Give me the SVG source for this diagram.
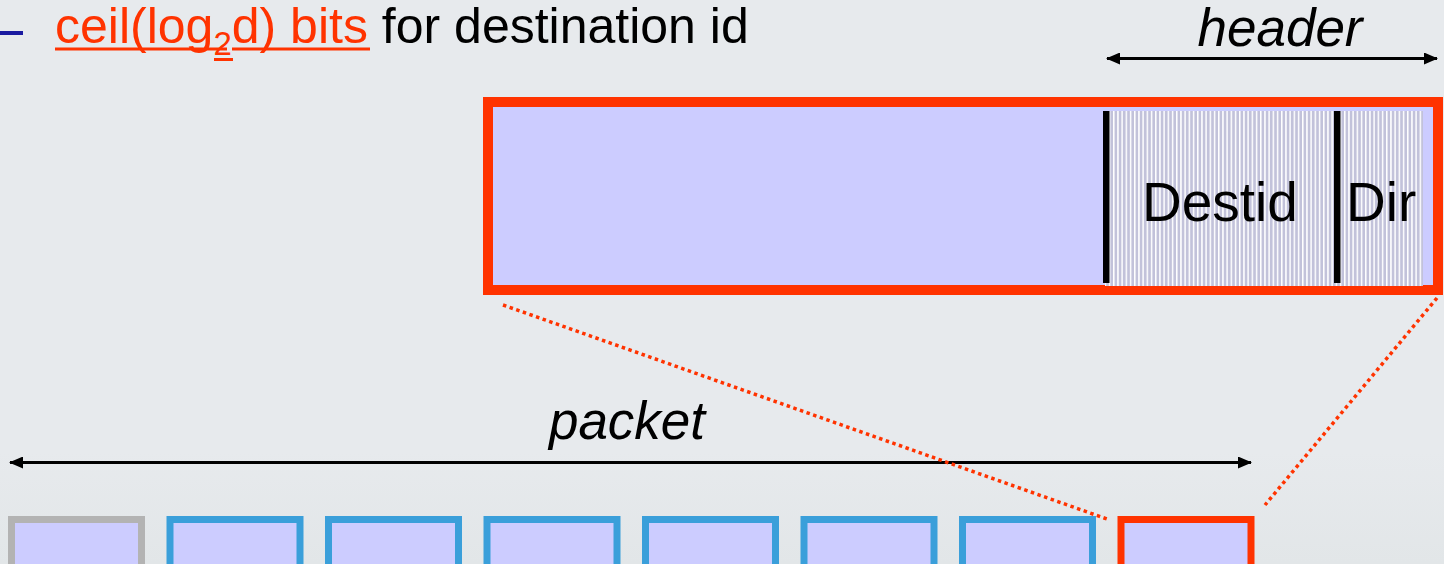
<svg xmlns="http://www.w3.org/2000/svg" width="1444" height="564" viewBox="0 0 1444 564">
  <style>
    .txt { font-family: "Liberation Sans", Arial, sans-serif; fill: #000; }
    .lbl { font-family: "Liberation Sans", Arial, sans-serif; font-style: italic; font-size: 53px; fill: #000; }
    .fld { font-family: "Liberation Sans", Arial, sans-serif; font-size: 55px; fill: #000; }
    .cell { fill: #ccccff; stroke-width: 7; }
    .dots { stroke: #ff3300; stroke-width: 3.5; stroke-dasharray: 3.5 3.5; fill: none; }
    .dim { stroke: #000; stroke-width: 3; fill: none; marker-start: url(#ah); marker-end: url(#ah); }
  </style>
  <defs>
    <marker id="ah" viewBox="0 0 14 12" refX="13" refY="6" markerWidth="14" markerHeight="12" markerUnits="userSpaceOnUse" orient="auto-start-reverse">
      <path d="M0,0 L14,6 L0,12 Z" fill="#000"/>
    </marker>
    <pattern id="stripes" width="4.2" height="10" patternUnits="userSpaceOnUse">
      <rect width="4.2" height="10" fill="#ffffff"/>
      <rect x="1.5" width="2.7" height="10" fill="#c2c2da"/>
    </pattern>
    <linearGradient id="bg" x1="0" y1="0" x2="0" y2="1">
      <stop offset="0" stop-color="#e7eaed"/>
      <stop offset="0.8" stop-color="#e7eaed"/>
      <stop offset="1" stop-color="#e2e6e8"/>
    </linearGradient>
  </defs>

  <rect width="1444" height="564" fill="url(#bg)"/>

  <!-- bullet line -->
  <g id="bullet">
    <rect x="0" y="31" width="23" height="4" fill="#1a1aa0"/>
    <text class="txt" x="55" y="43" font-size="50"><tspan fill="#ff3300">ceil(log</tspan><tspan fill="#ff3300" font-size="33" dy="12">2</tspan><tspan fill="#ff3300" dy="-12">d) bits</tspan> for destination id</text>
    <rect x="55" y="47.5" width="172" height="3" fill="#ff3300"/>
    <rect x="214" y="58" width="19" height="3" fill="#ff3300"/>
    <rect x="232" y="47.5" width="138" height="3" fill="#ff3300"/>
  </g>

  <!-- header dimension -->
  <g id="header-dim">
    <text class="lbl" x="1280" y="46" text-anchor="middle">header</text>
  </g>

  <!-- enlarged flit -->
  <g id="flit-detail">
    <rect x="488" y="102" width="950" height="188" fill="#ccccff" stroke="#ff3300" stroke-width="10"/>
    <rect x="1105" y="111" width="318" height="175" fill="url(#stripes)"/>
    <rect x="1103" y="111" width="6.5" height="172" fill="#000"/>
    <rect x="1334" y="111" width="6.5" height="172" fill="#000"/>
    <text class="fld" x="1142" y="221">Destid</text>
    <text class="fld" x="1346" y="221">Dir</text>
  </g>

  <!-- packet dimension -->
  <g id="packet-dim">
    <text class="lbl" x="627" y="439" text-anchor="middle">packet</text>
  </g>

  <!-- flits of the packet -->
  <g id="flit-0"><rect class="cell" x="11.5" y="519.5" width="130" height="60" stroke="#b3b3b3"/></g>
  <g id="flit-1"><rect class="cell" x="170" y="519.5" width="130" height="60" stroke="#3a9fda"/></g>
  <g id="flit-2"><rect class="cell" x="328.5" y="519.5" width="130" height="60" stroke="#3a9fda"/></g>
  <g id="flit-3"><rect class="cell" x="487" y="519.5" width="130" height="60" stroke="#3a9fda"/></g>
  <g id="flit-4"><rect class="cell" x="645.5" y="519.5" width="130" height="60" stroke="#3a9fda"/></g>
  <g id="flit-5"><rect class="cell" x="804" y="519.5" width="130" height="60" stroke="#3a9fda"/></g>
  <g id="flit-6"><rect class="cell" x="962.5" y="519.5" width="130" height="60" stroke="#3a9fda"/></g>
  <g id="flit-7"><rect class="cell" x="1121" y="519.5" width="130" height="60" stroke="#ff3300"/></g>

  <!-- connectors -->
  <g id="connectors">
    <line class="dim" x1="1107" y1="58.5" x2="1437" y2="58.5"/>
    <line class="dim" x1="10" y1="462.5" x2="1251" y2="462.5"/>
    <line class="dots" x1="503" y1="305" x2="1107" y2="519"/>
    <line class="dots" x1="1437" y1="298" x2="1265" y2="505"/>
  </g>
</svg>
